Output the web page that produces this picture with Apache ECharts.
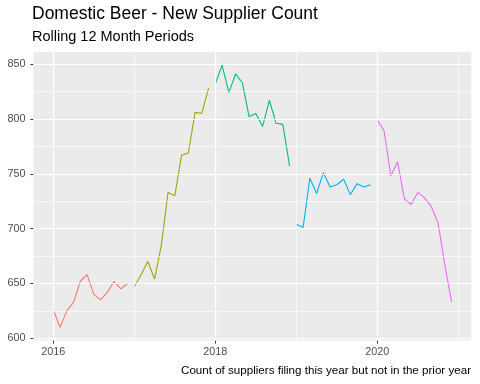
<!DOCTYPE html>
<html>
<head>
<meta charset="utf-8">
<script src="https://cdn.jsdelivr.net/npm/echarts@6/dist/echarts.min.js"></script>
<style>html,body{margin:0;padding:0;background:#fff}#c{width:480px;height:384px}</style>
</head>
<body>
<div id="c"></div>
<script>
var years = [2016, 2017, 2018, 2019, 2020];
var colors = ['#F8766D', '#A3A500', '#00BF7D', '#00B0F6', '#E76BF3'];
var v2016 = [626, 610, 625, 633, 652, 658, 640, 635, 642, 652, 645, 650];
var v2017 = [647, 658, 670, 654, 685, 733, 730, 767, 769, 806, 805, 828];
var v2018 = [832, 849, 824, 841, 833, 802, 805, 793, 817, 796, 795, 757];
var v2019 = [704, 701, 746, 732, 751, 738, 740, 745, 731, 741, 738, 740];
var v2020 = [799, 789, 748, 761, 727, 722, 733, 728, 720, 705, 667, 633];
var xMajor = [2016, 2018, 2020];
var xMinor = [2017, 2019, 2021];
var yMajor = [600, 650, 700, 750, 800, 850];
var yMinor = [625, 675, 725, 775, 825];

var allVals = [v2016, v2017, v2018, v2019, v2020];
var font = 'Liberation Sans, Arial, sans-serif';

var series = years.map(function (yr, i) {
  return {
    type: 'line',
    name: String(yr),
    data: allVals[i].map(function (v, m) { return [yr + m / 12, v]; }),
    showSymbol: false,
    symbol: 'none',
    lineStyle: { color: colors[i], width: 1.1 },
    itemStyle: { color: colors[i] },
    z: 3,
    silent: true
  };
});

function ml(arr, key, w) {
  return arr.map(function (v) {
    var o = {}; o[key] = v;
    o.lineStyle = { color: '#FFFFFF', width: w, type: 'solid' };
    return o;
  });
}

series.unshift({
  type: 'line',
  data: [],
  z: 1,
  silent: true,
  markLine: {
    silent: true,
    symbol: ['none', 'none'],
    label: { show: false },
    animation: false,
    data: [].concat(ml(yMinor, 'yAxis', 0.6), ml(xMinor, 'xAxis', 0.6), ml(yMajor, 'yAxis', 1.2), ml(xMajor, 'xAxis', 1.2))
  }
});

var chart = echarts.init(document.getElementById('c'), null, { renderer: 'canvas' });
chart.setOption({
  animation: false,
  backgroundColor: '#FFFFFF',
  title: [
    { text: 'Domestic Beer - New Supplier Count', left: 32, top: 5.6, padding: 0,
      textStyle: { fontFamily: font, fontSize: 17.5, fontWeight: 'normal', color: '#000000' } },
    { text: 'Rolling 12 Month Periods', left: 32, top: 29, padding: 0,
      textStyle: { fontFamily: font, fontSize: 14.5, fontWeight: 'normal', color: '#000000' } },
    { text: 'Count of suppliers filing this year but not in the prior year', right: 9, top: 364.5, padding: 0,
      textStyle: { fontFamily: font, fontSize: 11.6, fontWeight: 'normal', color: '#000000' } }
  ],
  grid: { left: 33.4, right: 8.7, top: 52, bottom: 43.5, show: true, backgroundColor: '#EBEBEB', borderWidth: 0 },
  xAxis: {
    type: 'value', min: 2015.754, max: 2021.16,
    axisLine: { show: false },
    splitLine: { show: false },
    axisTick: { show: true, length: 3, lineStyle: { color: '#333333', width: 1 }, customValues: xMajor },
    axisLabel: { customValues: xMajor, color: '#4D4D4D', fontFamily: font, fontSize: 10.8, margin: 6,
      formatter: function (v) { return String(Math.round(v)); } }
  },
  yAxis: {
    type: 'value', min: 598, max: 861,
    axisLine: { show: false },
    splitLine: { show: false },
    axisTick: { show: true, length: 3, lineStyle: { color: '#333333', width: 1 }, customValues: yMajor },
    axisLabel: { customValues: yMajor, color: '#4D4D4D', fontFamily: font, fontSize: 10.8, margin: 8,
      formatter: function (v) { return String(Math.round(v)); } }
  },
  series: series
});
</script>
</body>
</html>
